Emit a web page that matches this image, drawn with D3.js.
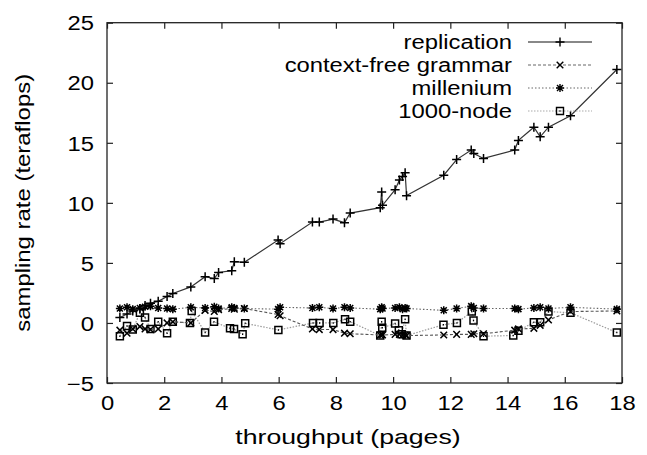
<!DOCTYPE html>
<html>
<head>
<meta charset="utf-8">
<script src="https://cdn.jsdelivr.net/npm/d3@7"></script>
<style>
  html, body { margin: 0; padding: 0; background: #fff; }
  svg text { font-family: "Liberation Sans", Arial, Helvetica, sans-serif; fill: #000; }
</style>
</head>
<body>
<svg id="chart" width="647" height="455"></svg>
<script>
// ---- data ----
const xTicks = [0, 2, 4, 6, 8, 10, 12, 14, 16, 18];
const yTicks = [-5, 0, 5, 10, 15, 20, 25];
const seriesNames = ["replication", "context-free grammar", "millenium", "1000-node"];

const xValues = [0.45, 0.7, 0.9, 1.15, 1.33, 1.52, 1.79, 2.1, 2.3, 2.93, 3.43, 3.75, 3.9, 4.36, 4.45, 4.8,
  5.98, 6.05, 7.18, 7.42, 7.9, 8.3, 8.5, 9.55, 9.6, 9.63, 10.07, 10.22, 10.33, 10.42, 10.47,
  11.77, 12.22, 12.73, 12.82, 13.16, 14.25, 14.38, 14.92, 15.14, 15.43, 16.2, 17.82];

const replication = [0.45, 0.75, 1.0, 1.2, 1.45, 1.65, 1.8, 2.2, 2.45, 3.0, 3.85, 3.7, 4.2, 4.35, 5.1, 5.05,
  6.9, 6.6, 8.4, 8.4, 8.65, 8.35, 9.15, 9.6, 10.9, 9.8, 11.1, 11.9, 12.2, 12.5, 10.6,
  12.3, 13.6, 14.4, 14.1, 13.7, 14.4, 15.2, 16.3, 15.5, 16.3, 17.25, 21.1];

const contextFree = [-0.6, -0.85, -0.5, -0.3, -0.5, -0.55, -0.5, 0.0, 0.1, 0.0, 1.05, 0.95, 1.1, 1.2, 1.15, 1.2,
  0.7, 0.6, -0.5, -0.55, -0.55, -0.85, -0.9, -1.0, -0.95, -1.0, -0.95, -0.95, -1.0, -1.0, -1.05,
  -1.0, -0.95, -0.95, -0.9, -0.9, -0.6, -0.5, -0.45, -0.2, 0.25, 0.95, 1.0];

const millenium = [1.2, 1.3, 1.15, 1.25, 1.35, 1.4, 1.25, 1.2, 1.15, 1.3, 1.25, 1.35, 1.2, 1.3, 1.25, 1.2,
  1.15, 1.3, 1.25, 1.3, 1.2, 1.3, 1.25, 1.15, 1.3, 1.2, 1.25, 1.3, 1.15, 1.25, 1.2,
  1.05, 1.2, 1.4, 1.25, 1.2, 1.2, 1.15, 1.25, 1.3, 1.2, 1.3, 1.15];

const nodeX = [0.45, 0.7, 0.9, 1.15, 1.33, 1.52, 1.79, 2.1, 2.3, 2.9, 2.96, 3.43, 3.74, 4.3, 4.44, 4.74, 4.83,
  5.99, 7.2, 7.43, 7.91, 8.32, 8.5, 9.55, 9.6, 9.62, 10.07, 10.2, 10.3, 10.42, 10.47,
  11.76, 12.23, 12.75, 12.81, 13.16, 14.2, 14.38, 14.92, 15.14, 15.43, 16.2, 17.82];
const node1000 = [-1.1, -0.25, -0.55, 0.85, 0.45, -0.5, 0.1, -0.85, 0.1, 0.0, 1.0, -0.8, 0.1, -0.45, -0.5, -0.95, -0.03,
  -0.58, 0.0, 0.0, 0.0, 0.3, 0.1, -1.05, 0.1, -0.4, -0.05, -0.6, -0.95, 0.3, -1.05,
  -0.15, 0.0, 0.95, 0.2, -1.1, -1.05, -0.65, 0.05, 0.05, 0.95, 0.85, -0.8];

// ---- layout ----
const svg = d3.select("#chart");
const mLeft = 107, mRight = 622, mTop = 22.7, mBottom = 383;
const x = d3.scaleLinear().domain([0, 18]).range([mLeft, mRight]);
const y = d3.scaleLinear().domain([-5, 25]).range([mBottom, mTop]);
const FS = 20, SX = 1.19;      // tick labels and legend
const TFS = 21, TSX = 1.27;    // x axis title
const YSX = 1.14;              // y axis title stretch

// markers
const markerPaths = {
  plus: "M-4.5,0H4.5M0,-4.5V4.5",
  cross: "M-3.3,-3.3L3.3,3.3M-3.3,3.3L3.3,-3.3",
  star: "M-4,0H4M0,-4V4M-3,-3L3,3M-3,3L3,-3",
  square: "M-3.5,-3.5H3.5V3.5H-3.5Z M-0.6,0H0.6"
};

const series = [
  { name: seriesNames[0], xs: xValues, ys: replication, stroke: "#333", dash: null, width: 1.2, marker: "plus", legendStroke: "#888", legendWidth: 2 },
  { name: seriesNames[1], xs: xValues, ys: contextFree, stroke: "#555", dash: "3,2", width: 1.1, marker: "cross", legendStroke: "#666", legendWidth: 1 },
  { name: seriesNames[2], xs: xValues, ys: millenium, stroke: "#666", dash: "1.5,2", width: 1.1, marker: "star", legendStroke: "#666", legendWidth: 1 },
  { name: seriesNames[3], xs: nodeX, ys: node1000, stroke: "#9a9a9a", dash: "1.5,1.5", width: 1.2, marker: "square", legendStroke: "#aaa", legendWidth: 1.2 }
];

// axes: ticks inward on all four sides
const gx = svg.append("g").attr("transform", `translate(0,${mBottom})`)
  .call(d3.axisBottom(x).tickValues(xTicks).tickSize(-6).tickPadding(14).tickFormat(d3.format("d")));
const gy = svg.append("g").attr("transform", `translate(${mLeft},0)`)
  .call(d3.axisLeft(y).tickValues(yTicks).tickSize(-6).tickPadding(12).tickFormat(d3.format("d")));
const gxt = svg.append("g").attr("transform", `translate(0,${mTop})`)
  .call(d3.axisTop(x).tickValues(xTicks).tickSize(-6).tickFormat(""));
const gyr = svg.append("g").attr("transform", `translate(${mRight},0)`)
  .call(d3.axisRight(y).tickValues(yTicks).tickSize(-6).tickFormat(""));

[gx, gy, gxt, gyr].forEach(g => {
  g.select(".domain").remove();
  g.selectAll(".tick line").attr("stroke", "#222").attr("stroke-width", 1.2);
});
gx.selectAll(".tick text").attr("font-size", FS).attr("fill", "#000")
  .attr("transform", `scale(${SX},1)`).attr("dy", "0.65em");
gy.selectAll(".tick text").attr("font-size", FS).attr("fill", "#000")
  .attr("x", -13 / SX).attr("transform", `scale(${SX},1)`).attr("dy", "0.36em");

// frame
svg.append("rect").attr("x", mLeft).attr("y", mTop).attr("width", mRight - mLeft).attr("height", mBottom - mTop)
  .attr("fill", "none").attr("stroke", "#222").attr("stroke-width", 1.3);

// axis titles
svg.append("g").attr("transform", `translate(348,444)`)
  .append("text").attr("text-anchor", "middle").attr("font-size", TFS)
  .attr("transform", `scale(${TSX},1)`).text("throughput (pages)");
svg.append("g").attr("transform", `translate(30,${(mTop + mBottom) / 2}) rotate(-90)`)
  .append("text").attr("text-anchor", "middle").attr("font-size", TFS)
  .attr("transform", `scale(${YSX},1)`).text("sampling rate (teraflops)");

// lines + markers
const plot = svg.append("g");
series.slice().reverse().forEach(s => {
  const pts = s.xs.map((xv, i) => [xv, s.ys[i]]);
  plot.append("path").datum(pts)
    .attr("d", d3.line().x(d => x(d[0])).y(d => y(d[1])))
    .attr("fill", "none").attr("stroke", s.stroke).attr("stroke-width", s.width)
    .attr("stroke-dasharray", s.dash);
  plot.selectAll(null).data(pts).enter().append("path")
    .attr("transform", d => `translate(${x(d[0])},${y(d[1])})`)
    .attr("d", markerPaths[s.marker])
    .attr("fill", "none").attr("stroke", "#000").attr("stroke-width", 1.5);
});

// legend
const legY = [42, 65, 88, 111];
const leg = svg.append("g");
series.forEach((s, i) => {
  const row = leg.append("g").attr("transform", `translate(0,${legY[i]})`);
  row.append("g").attr("transform", "translate(512,0)")
    .append("text").attr("text-anchor", "end").attr("dy", "0.36em").attr("font-size", FS)
    .attr("transform", `scale(${SX},1)`).text(s.name);
  row.append("line").attr("x1", 528).attr("x2", 592).attr("y1", 0).attr("y2", 0)
    .attr("stroke", s.legendStroke).attr("stroke-width", s.legendWidth).attr("stroke-dasharray", s.dash);
  row.append("path").attr("transform", "translate(560,0)").attr("d", markerPaths[s.marker])
    .attr("fill", "none").attr("stroke", "#000").attr("stroke-width", 1.4);
});
</script>
</body>
</html>
